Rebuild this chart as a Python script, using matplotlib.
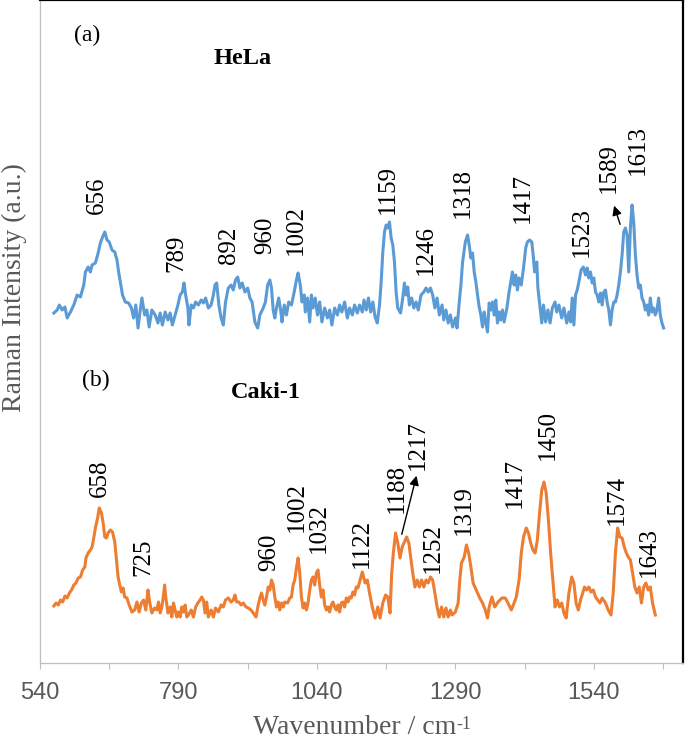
import matplotlib
matplotlib.use('Agg')
import matplotlib.pyplot as plt
from matplotlib.ticker import FixedLocator

plt.rcParams['font.family'] = ['Liberation Serif', 'DejaVu Serif']

# HeLa spectrum (wavenumber / cm-1, intensity a.u.)
hela_wn = [
    565, 571, 575, 580, 585, 589, 595, 601, 607, 613,
    619, 622, 627, 631, 634, 640, 645, 649, 653, 657,
    661, 665, 670, 675, 679, 682, 685, 689, 694, 700,
    705, 709, 713, 717, 721, 724, 729, 733, 737, 742,
    748, 753, 757, 761, 766, 771, 775, 779, 784, 789,
    793, 797, 800, 803, 807, 809, 813, 817, 821, 826,
    831, 835, 839, 844, 849, 853, 856, 859, 863, 867,
    871, 875, 880, 885, 889, 893, 897, 901, 905, 910,
    915, 919, 923, 928, 933, 937, 943, 947, 951, 955,
    958, 961, 964, 967, 971, 975, 977, 981, 985, 989,
    994, 999, 1003, 1006, 1010, 1013, 1017, 1019, 1023, 1027,
    1030, 1033, 1037, 1041, 1045, 1049, 1054, 1059, 1063, 1067,
    1072, 1077, 1081, 1085, 1090, 1095, 1099, 1104, 1108, 1113,
    1117, 1122, 1125, 1129, 1133, 1137, 1141, 1145, 1149, 1153,
    1156, 1159, 1162, 1165, 1168, 1171, 1174, 1177, 1180, 1183,
    1186, 1191, 1195, 1198, 1201, 1204, 1207, 1211, 1215, 1219,
    1223, 1228, 1233, 1237, 1241, 1245, 1249, 1253, 1257, 1261,
    1266, 1269, 1273, 1277, 1281, 1285, 1290, 1293, 1297, 1300,
    1303, 1308, 1312, 1315, 1318, 1321, 1324, 1327, 1330, 1333,
    1336, 1339, 1342, 1345, 1348, 1351, 1354, 1357, 1360, 1363,
    1366, 1369, 1372, 1375, 1378, 1383, 1387, 1390, 1393, 1396,
    1399, 1402, 1405, 1409, 1413, 1417, 1420, 1424, 1428, 1431,
    1433, 1437, 1439, 1443, 1446, 1449, 1453, 1457, 1461, 1465,
    1470, 1473, 1477, 1482, 1486, 1491, 1495, 1498, 1501, 1504,
    1507, 1510, 1513, 1517, 1521, 1525, 1528, 1531, 1534, 1537,
    1540, 1543, 1546, 1549, 1552, 1555, 1558, 1561, 1564, 1567,
    1570, 1573, 1576, 1579, 1582, 1585, 1588, 1591, 1594, 1597,
    1600, 1603, 1606, 1609, 1612, 1615, 1618, 1621, 1624, 1627,
    1630, 1633, 1636, 1639, 1642, 1645, 1648, 1651, 1654, 1657,
    1660, 1663, 1666,
]
hela_int = [
    352, 355, 360, 355, 358, 347, 353, 360, 370, 368,
    380, 393, 398, 393, 400, 402, 412, 422, 428, 433,
    425, 423, 415, 413, 405, 393, 383, 370, 363, 362,
    357, 347, 360, 337, 355, 367, 350, 355, 338, 355,
    350, 342, 352, 340, 353, 345, 352, 340, 350, 360,
    370, 373, 382, 370, 357, 340, 360, 357, 363, 360,
    365, 362, 367, 357, 360, 370, 380, 382, 360, 347,
    340, 363, 377, 380, 375, 385, 388, 377, 382, 373,
    377, 367, 363, 343, 337, 350, 357, 363, 380, 385,
    377, 355, 347, 357, 367, 353, 343, 360, 350, 363,
    360, 373, 385, 392, 380, 363, 370, 353, 367, 343,
    370, 357, 367, 350, 363, 343, 357, 347, 355, 340,
    357, 350, 360, 353, 363, 347, 357, 350, 360, 352,
    360, 353, 365, 355, 367, 353, 363, 348, 342, 360,
    383, 413, 433, 440, 437, 443, 427, 420, 403, 373,
    357, 352, 367, 382, 370, 378, 360, 367, 357, 363,
    355, 370, 373, 377, 373, 377, 370, 357, 367, 350,
    360, 345, 355, 342, 350, 338, 347, 337, 363, 380,
    403, 423, 430, 420, 407, 412, 393, 383, 370, 358,
    350, 338, 353, 342, 333, 362, 355, 363, 350, 365,
    342, 353, 345, 355, 343, 357, 373, 383, 393, 380,
    390, 375, 387, 380, 397, 417, 423, 425, 423, 407,
    393, 403, 377, 357, 342, 360, 343, 355, 342, 357,
    363, 353, 360, 347, 357, 342, 353, 343, 367, 340,
    370, 375, 383, 395, 398, 390, 397, 387, 393, 382,
    387, 373, 370, 363, 372, 360, 373, 375, 363, 355,
    340, 355, 363, 363, 370, 380, 393, 410, 433, 437,
    430, 393, 437, 460, 443, 410, 390, 377, 380, 367,
    363, 355, 360, 350, 367, 353, 357, 350, 355, 367,
    350, 342, 337,
]

# Caki-1 spectrum
caki_wn = [
    565, 569, 573, 577, 581, 585, 589, 593, 597, 601,
    605, 609, 613, 617, 621, 623, 627, 631, 634, 637,
    640, 644, 647, 651, 654, 657, 660, 663, 667, 671,
    675, 678, 681, 684, 687, 690, 693, 697, 701, 706,
    711, 715, 719, 723, 727, 731, 735, 738, 742, 747,
    751, 754, 757, 760, 763, 765, 767, 771, 775, 778,
    781, 784, 787, 790, 793, 796, 799, 802, 805, 808,
    813, 817, 821, 825, 829, 832, 835, 838, 841, 844,
    849, 853, 857, 862, 867, 871, 875, 880, 885, 889,
    892, 895, 899, 903, 907, 912, 916, 921, 925, 930,
    934, 937, 940, 943, 946, 949, 952, 955, 958, 961,
    964, 967, 970, 973, 976, 979, 982, 987, 991, 994,
    997, 1000, 1003, 1006, 1009, 1012, 1015, 1018, 1021, 1024,
    1027, 1030, 1033, 1036, 1039, 1042, 1045, 1048, 1051, 1054,
    1057, 1060, 1063, 1066, 1069, 1072, 1075, 1078, 1081, 1084,
    1087, 1090, 1093, 1096, 1099, 1102, 1105, 1108, 1111, 1114,
    1117, 1122, 1127, 1131, 1135, 1140, 1145, 1150, 1154, 1159,
    1164, 1168, 1172, 1175, 1178, 1182, 1186, 1190, 1194, 1198,
    1202, 1206, 1210, 1213, 1217, 1221, 1225, 1229, 1233, 1237,
    1241, 1245, 1249, 1253, 1257, 1261, 1265, 1269, 1273, 1277,
    1281, 1284, 1290, 1295, 1298, 1301, 1306, 1310, 1314, 1318,
    1322, 1326, 1330, 1334, 1339, 1344, 1348, 1351, 1356, 1361,
    1367, 1374, 1380, 1385, 1391, 1396, 1400, 1405, 1409, 1413,
    1418, 1422, 1426, 1430, 1434, 1438, 1442, 1446, 1450, 1454,
    1458, 1462, 1466, 1470, 1474, 1478, 1482, 1486, 1490, 1495,
    1500, 1504, 1508, 1512, 1516, 1520, 1523, 1527, 1531, 1535,
    1539, 1543, 1547, 1551, 1555, 1561, 1566, 1571, 1575, 1579,
    1583, 1587, 1591, 1595, 1598, 1602, 1606, 1610, 1614, 1618,
    1622, 1626, 1630, 1634, 1638, 1642, 1646, 1651,
]
caki_int = [
    59, 62, 60, 65, 63, 69, 67, 72, 75, 80,
    82, 87, 88, 95, 98, 107, 112, 115, 118, 127,
    137, 147, 157, 152, 142, 128, 127, 132, 135, 133,
    123, 105, 88, 80, 73, 77, 68, 67, 60, 53,
    55, 63, 53, 62, 65, 55, 75, 63, 52, 57,
    55, 63, 52, 58, 70, 80, 68, 52, 58, 48,
    62, 55, 48, 53, 48, 58, 53, 60, 48, 50,
    55, 48, 58, 62, 65, 68, 65, 52, 63, 48,
    55, 48, 57, 53, 60, 58, 65, 67, 63, 65,
    70, 63, 63, 60, 62, 58, 57, 55, 52, 48,
    60, 67, 72, 65, 60, 68, 78, 75, 85, 80,
    68, 58, 63, 55, 62, 58, 63, 62, 67, 68,
    80, 85, 97, 107, 92, 68, 57, 62, 55, 62,
    75, 85, 88, 80, 92, 95, 80, 68, 75, 60,
    55, 58, 53, 60, 63, 58, 55, 60, 53, 62,
    63, 58, 67, 63, 68, 67, 73, 70, 78, 77,
    83, 93, 82, 85, 72, 58, 47, 58, 47, 62,
    70, 68, 52, 92, 112, 132, 122, 107, 118, 123,
    128, 122, 105, 92, 78, 85, 78, 85, 78, 85,
    82, 88, 85, 72, 58, 48, 58, 48, 57, 48,
    55, 50, 53, 62, 85, 102, 108, 120, 112, 98,
    82, 77, 72, 67, 62, 55, 47, 58, 68, 58,
    63, 67, 67, 62, 55, 62, 68, 85, 112, 128,
    137, 132, 122, 115, 112, 125, 152, 175, 183, 172,
    145, 112, 85, 58, 65, 58, 62, 52, 47, 72,
    88, 82, 62, 55, 65, 72, 78, 75, 78, 73,
    75, 68, 65, 62, 67, 62, 55, 50, 72, 112,
    137, 128, 127, 118, 113, 108, 105, 92, 78, 72,
    78, 62, 78, 82, 75, 78, 62, 50,
]

# peak labels: text and label centre
hela_labels = ['656', '789', '892', '960', '1002', '1159', '1246', '1318',
               '1417', '1523', '1589', '1613']
hela_lab_x = [643, 786, 881, 946, 1002, 1168, 1237, 1304, 1412, 1519, 1567, 1620]
hela_lab_y = [470, 412, 420, 430, 435, 475, 415, 472, 467, 433, 497, 515]

caki_labels = ['658', '725', '960', '1002', '1032', '1122', '1188', '1217',
               '1252', '1319', '1417', '1450', '1574', '1643']
caki_lab_x = [649, 726, 954, 1004, 1044, 1122, 1185, 1223, 1249, 1306, 1397, 1457, 1582, 1640]
caki_lab_y = [187, 108, 113, 158, 137, 122, 177, 220, 117, 155, 182, 230, 165, 113]

assert len(hela_wn) == len(hela_int)
assert len(caki_wn) == len(caki_int)

fig = plt.figure(figsize=(6.85, 7.42), dpi=100)
ax = fig.add_axes([40 / 685, 79 / 742, 643 / 685, 663 / 742])

ax.plot(hela_wn, hela_int, color='#5B9BD5', lw=2.2)
ax.plot(caki_wn, caki_int, color='#ED7D31', lw=2.2)

ax.set_xlim(540, 1701)
ax.set_ylim(2, 665)

ax.xaxis.set_major_locator(FixedLocator([540, 790, 1040, 1290, 1540]))
ax.xaxis.set_minor_locator(FixedLocator([665, 915, 1165, 1415, 1665]))
ax.tick_params(axis='x', which='both', direction='out', length=4, width=0.8,
               color='#BFBFBF', pad=10, labelsize=17, labelcolor='#595959')
for lab in ax.get_xticklabels():
    lab.set_fontfamily('Liberation Sans')
ax.set_yticks([])

for side in ['left', 'bottom']:
    ax.spines[side].set_color('#BFBFBF')
    ax.spines[side].set_linewidth(0.9)
for side in ['top', 'right']:
    ax.spines[side].set_color('black')
    ax.spines[side].set_linewidth(1.6)

for t, x, y in zip(hela_labels, hela_lab_x, hela_lab_y):
    ax.text(x, y, t, rotation=90, ha='center', va='center', fontsize=18)
for t, x, y in zip(caki_labels, caki_lab_x, caki_lab_y):
    ax.text(x, y, t, rotation=90, ha='center', va='center', fontsize=18)

# arrows pointing to the shoulder peaks
ax.annotate('', xy=(1575, 462), xytext=(1589, 438),
            arrowprops=dict(arrowstyle='-|>', color='black', lw=1.0, mutation_scale=14))
ax.annotate('', xy=(1221, 192), xytext=(1192, 128),
            arrowprops=dict(arrowstyle='-|>', color='black', lw=1.0, mutation_scale=14))

ax.text(625, 630, '(a)', ha='center', va='center', fontsize=17)
ax.text(905, 607, 'HeLa', ha='center', va='center', fontsize=17.5, fontweight='bold')
ax.text(641, 285, '(b)', ha='center', va='center', fontsize=17)
ax.text(948, 273, 'Caki-1', ha='center', va='center', fontsize=17.5, fontweight='bold')

xlab = fig.text(355 / 685, 1 - 727 / 742, 'Wavenumber / cm',
                ha='center', va='center', fontsize=20, color='#595959')
ax.annotate('-1', xy=(1.0, 0.95), xycoords=xlab, ha='left', va='top',
            fontsize=13, color='#595959', annotation_clip=False)
fig.text(14 / 685, 1 - 288 / 742, 'Raman Intensity (a.u.)', rotation=90,
         ha='center', va='center', fontsize=20, color='#595959')

fig.savefig('out.png', dpi=100)
